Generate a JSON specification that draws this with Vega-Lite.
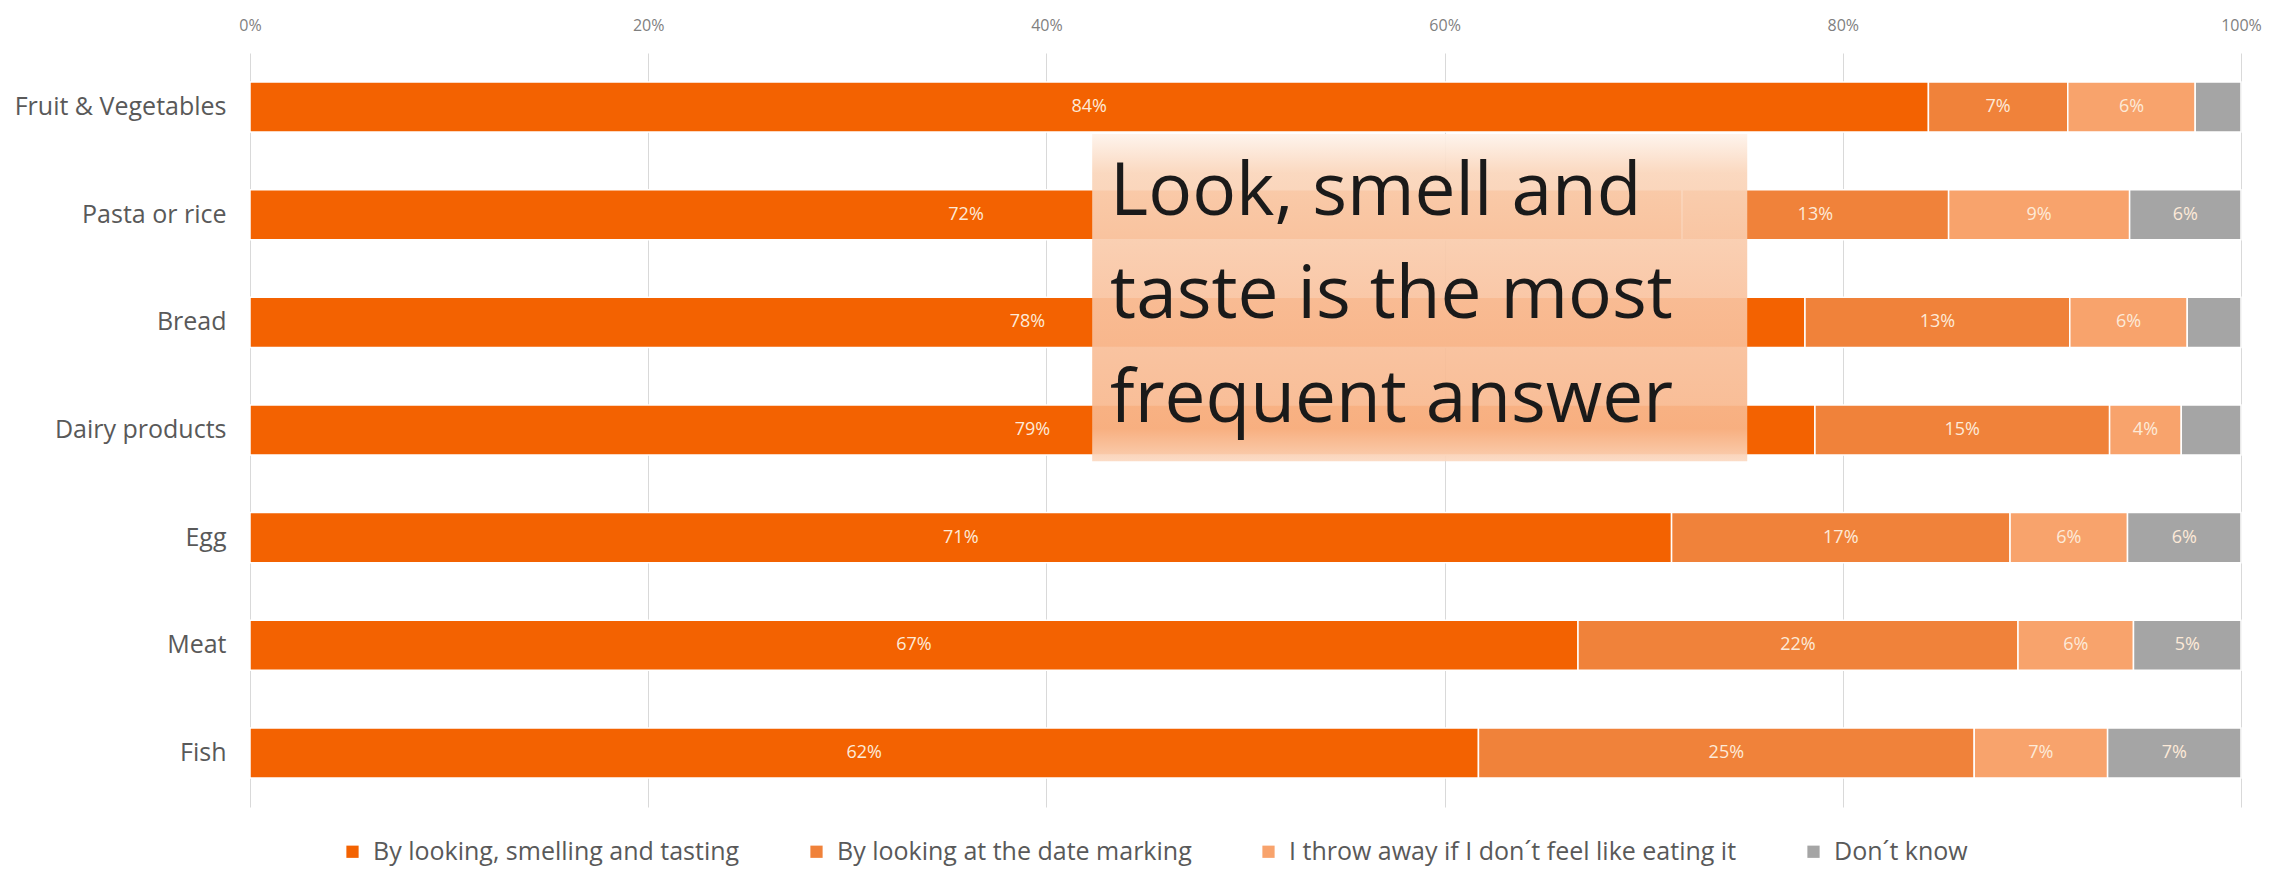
{
  "$schema": "https://vega.github.io/schema/vega-lite/v6.json",
  "width": 1991,
  "height": 754,
  "autosize": {"type": "none"},
  "padding": {"left": 250, "top": 53, "right": 29, "bottom": 69},
  "background": "white",
  "config": {
    "view": {"stroke": null},
    "font": "Open Sans"
  },
  "layer": [
    {
      "data": {
        "values": [
          {"cat": "Fruit & Vegetables", "answer": "By looking, smelling and tasting", "ord": 1, "value": 0.843},
          {"cat": "Fruit & Vegetables", "answer": "By looking at the date marking", "ord": 2, "value": 0.070},
          {"cat": "Fruit & Vegetables", "answer": "I throw away if I don´t feel like eating it", "ord": 3, "value": 0.064},
          {"cat": "Fruit & Vegetables", "answer": "Don´t know", "ord": 4, "value": 0.023},
          {"cat": "Pasta or rice", "answer": "By looking, smelling and tasting", "ord": 1, "value": 0.720},
          {"cat": "Pasta or rice", "answer": "By looking at the date marking", "ord": 2, "value": 0.134},
          {"cat": "Pasta or rice", "answer": "I throw away if I don´t feel like eating it", "ord": 3, "value": 0.091},
          {"cat": "Pasta or rice", "answer": "Don´t know", "ord": 4, "value": 0.056},
          {"cat": "Bread", "answer": "By looking, smelling and tasting", "ord": 1, "value": 0.781},
          {"cat": "Bread", "answer": "By looking at the date marking", "ord": 2, "value": 0.133},
          {"cat": "Bread", "answer": "I throw away if I don´t feel like eating it", "ord": 3, "value": 0.059},
          {"cat": "Bread", "answer": "Don´t know", "ord": 4, "value": 0.027},
          {"cat": "Dairy products", "answer": "By looking, smelling and tasting", "ord": 1, "value": 0.786},
          {"cat": "Dairy products", "answer": "By looking at the date marking", "ord": 2, "value": 0.148},
          {"cat": "Dairy products", "answer": "I throw away if I don´t feel like eating it", "ord": 3, "value": 0.036},
          {"cat": "Dairy products", "answer": "Don´t know", "ord": 4, "value": 0.030},
          {"cat": "Egg", "answer": "By looking, smelling and tasting", "ord": 1, "value": 0.714},
          {"cat": "Egg", "answer": "By looking at the date marking", "ord": 2, "value": 0.170},
          {"cat": "Egg", "answer": "I throw away if I don´t feel like eating it", "ord": 3, "value": 0.059},
          {"cat": "Egg", "answer": "Don´t know", "ord": 4, "value": 0.057},
          {"cat": "Meat", "answer": "By looking, smelling and tasting", "ord": 1, "value": 0.667},
          {"cat": "Meat", "answer": "By looking at the date marking", "ord": 2, "value": 0.221},
          {"cat": "Meat", "answer": "I throw away if I don´t feel like eating it", "ord": 3, "value": 0.058},
          {"cat": "Meat", "answer": "Don´t know", "ord": 4, "value": 0.054},
          {"cat": "Fish", "answer": "By looking, smelling and tasting", "ord": 1, "value": 0.617},
          {"cat": "Fish", "answer": "By looking at the date marking", "ord": 2, "value": 0.249},
          {"cat": "Fish", "answer": "I throw away if I don´t feel like eating it", "ord": 3, "value": 0.067},
          {"cat": "Fish", "answer": "Don´t know", "ord": 4, "value": 0.067}
        ]
      },
      "transform": [
        {"stack": "value", "groupby": ["cat"], "sort": [{"field": "ord", "order": "ascending"}], "as": ["v0", "v1"], "offset": "normalize"},
        {"calculate": "(datum.v0 + datum.v1) / 2", "as": "mid"}
      ],
      "encoding": {
        "y": {
          "field": "cat",
          "type": "nominal",
          "sort": ["Fruit & Vegetables", "Pasta or rice", "Bread", "Dairy products", "Egg", "Meat", "Fish"],
          "scale": {"paddingInner": 0.535, "paddingOuter": 0.27},
          "axis": {
            "title": null,
            "domain": false,
            "ticks": false,
            "labelFontSize": 25,
            "labelColor": "#595959",
            "labelPadding": 24,
            "labelLimit": 500
          }
        }
      },
      "layer": [
        {
          "mark": {"type": "bar", "stroke": "white", "strokeWidth": 1.5},
          "encoding": {
            "x": {
              "field": "v0",
              "type": "quantitative",
              "scale": {"domain": [0, 1], "nice": false},
              "axis": {
                "orient": "top",
                "title": null,
                "format": ".0%",
                "values": [0, 0.2, 0.4, 0.6, 0.8, 1],
                "grid": true,
                "gridColor": "#D9D9D9",
                "gridWidth": 1,
                "domain": false,
                "ticks": false,
                "labelFontSize": 16,
                "labelColor": "#7F7F7F",
                "labelPadding": 20,
                "labelFlush": false
              }
            },
            "x2": {"field": "v1"},
            "color": {
              "field": "answer",
              "type": "nominal",
              "scale": {
                "domain": ["By looking, smelling and tasting", "By looking at the date marking", "I throw away if I don´t feel like eating it", "Don´t know"],
                "range": ["#F36201", "#F0823A", "#F8A36C", "#A5A5A5"]
              },
              "legend": {
                "title": null,
                "orient": "none",
                "direction": "horizontal",
                "columns": 4,
                "legendX": 90,
                "legendY": 786,
                "symbolType": "square",
                "symbolSize": 150,
                "symbolStrokeWidth": 0,
                "labelFontSize": 25,
                "labelColor": "#595959",
                "labelOffset": 8,
                "labelLimit": 800,
                "columnPadding": 64
              }
            }
          }
        },
        {
          "transform": [{"filter": "datum.value > 0.033"}],
          "mark": {"type": "text", "align": "center", "baseline": "middle", "fontSize": 18, "color": "#FDEAD8"},
          "encoding": {
            "x": {"field": "mid", "type": "quantitative"},
            "text": {"field": "value", "type": "quantitative", "format": ".0%"}
          }
        }
      ]
    },
    {
      "data": {"values": [{"box": "annotation"}]},
      "mark": {
        "type": "rect",
        "opacity": 0.92,
        "fill": {
          "gradient": "linear",
          "x1": 0, "y1": 0, "x2": 0, "y2": 1,
          "stops": [
            {"offset": 0, "color": "#FEF3EB"},
            {"offset": 0.12, "color": "#FAD5BA"},
            {"offset": 0.5, "color": "#F9C3A0"},
            {"offset": 0.9, "color": "#F8B68B"},
            {"offset": 1, "color": "#FBD9C2"}
          ]
        }
      },
      "encoding": {
        "x": {"datum": 0.423, "type": "quantitative"},
        "x2": {"datum": 0.752},
        "y": {"datum": 0.753, "type": "quantitative", "scale": {"domain": [0, 7], "reverse": true, "nice": false}, "axis": null},
        "y2": {"datum": 3.79}
      }
    },
    {
      "data": {
        "values": [
          {"t": "Look, smell and", "p": 1.30},
          {"t": "taste is the most", "p": 2.26},
          {"t": "frequent answer", "p": 3.22}
        ]
      },
      "mark": {"type": "text", "align": "left", "baseline": "middle", "fontSize": 73, "color": "#1A1A1A"},
      "encoding": {
        "x": {"datum": 0.432, "type": "quantitative"},
        "y": {"field": "p", "type": "quantitative", "scale": {"domain": [0, 7], "reverse": true, "nice": false}, "axis": null},
        "text": {"field": "t"}
      }
    }
  ],
  "resolve": {"scale": {"y": "independent"}}
}
